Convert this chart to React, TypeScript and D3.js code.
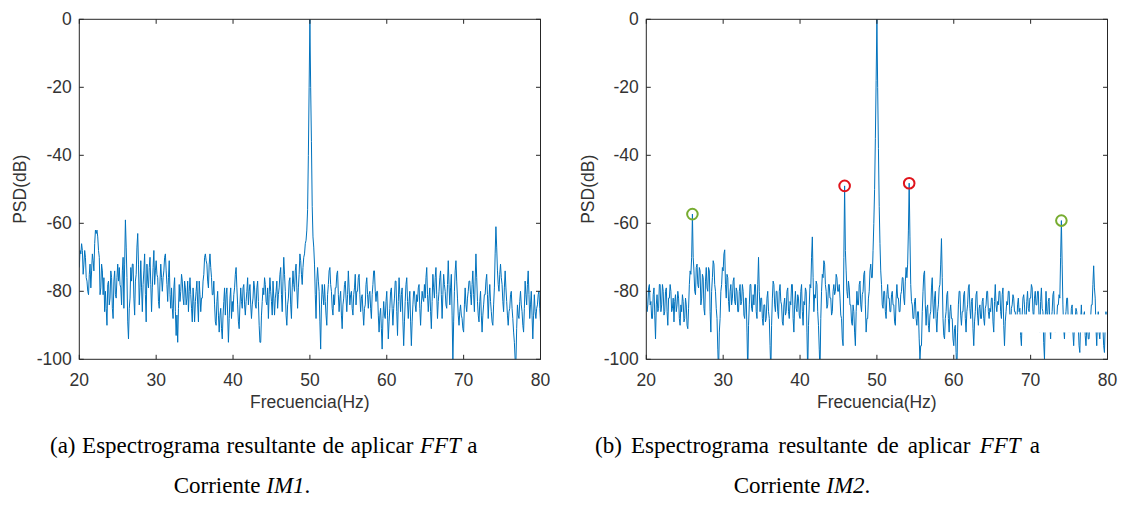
import React from 'react';
import * as d3 from 'd3';

// Frequency grid (Hz) of the spectra: 20 … 80 Hz, 0.1 Hz resolution
const freqStart = 20;
const freqStep = 0.1;

// PSD (dB) of current IM1 (one row per Hz)
const psdIM1 = [
  -73, -68, -69, -66, -68, -75, -72, -68, -70, -76,
  -77, -80, -81, -75, -72, -79, -74, -69, -71, -74,
  -66, -62, -63, -62, -64, -68, -70, -81, -79, -72,
  -74, -81, -76, -86, -80, -85, -90, -78, -77, -84,
  -82, -74, -76, -85, -88, -77, -74, -81, -82, -76,
  -72, -77, -73, -78, -79, -84, -74, -70, -85, -72,
  -59, -67, -76, -89, -94, -85, -82, -73, -77, -72,
  -72, -82, -87, -77, -75, -67, -63, -72, -84, -79,
  -71, -79, -86, -78, -74, -69, -81, -89, -72, -77,
  -79, -73, -70, -78, -86, -79, -73, -68, -78, -74,
  -71, -75, -76, -83, -85, -77, -72, -76, -80, -76,
  -74, -70, -69, -74, -78, -83, -76, -71, -81, -85,
  -79, -85, -88, -79, -76, -86, -93, -87, -95, -85,
  -78, -83, -80, -75, -77, -82, -84, -77, -79, -84,
  -82, -77, -86, -80, -76, -81, -85, -89, -79, -83,
  -89, -83, -80, -77, -84, -89, -77, -81, -86, -82,
  -82, -77, -75, -70, -69, -71, -72, -77, -79, -72,
  -69, -73, -76, -81, -81, -77, -84, -89, -90, -83,
  -80, -87, -92, -87, -85, -91, -94, -87, -83, -79,
  -87, -81, -79, -87, -95, -88, -82, -79, -88, -83,
  -86, -81, -79, -75, -73, -79, -84, -89, -91, -84,
  -79, -83, -85, -79, -78, -84, -87, -83, -80, -76,
  -84, -80, -78, -84, -88, -84, -82, -77, -79, -84,
  -85, -79, -77, -83, -90, -95, -95, -87, -83, -79,
  -81, -76, -78, -83, -84, -79, -88, -81, -76, -80,
  -83, -87, -77, -82, -87, -82, -80, -77, -85, -81,
  -79, -75, -73, -81, -86, -77, -70, -75, -80, -87,
  -90, -84, -82, -77, -76, -84, -88, -79, -74, -78,
  -80, -74, -72, -79, -85, -79, -75, -69, -71, -75,
  -78, -73, -70, -69, -66, -65, -62, -56, -40, -20,
  0, -20, -36, -55, -64, -67, -72, -81, -88, -77,
  -73, -77, -80, -89, -97, -84, -78, -81, -84, -78,
  -83, -87, -90, -81, -78, -74, -73, -78, -80, -85,
  -87, -81, -84, -79, -79, -75, -74, -81, -86, -82,
  -80, -87, -91, -84, -82, -78, -77, -82, -86, -81,
  -74, -79, -84, -81, -80, -85, -87, -81, -79, -75,
  -84, -80, -80, -76, -75, -81, -86, -82, -81, -86,
  -90, -85, -84, -78, -76, -81, -85, -81, -80, -85,
  -88, -81, -78, -74, -74, -80, -83, -80, -80, -87,
  -92, -87, -85, -91, -97, -88, -83, -87, -88, -83,
  -80, -87, -94, -89, -85, -80, -79, -85, -90, -85,
  -82, -77, -77, -86, -93, -83, -76, -81, -86, -81,
  -79, -89, -96, -89, -83, -78, -76, -83, -88, -83,
  -80, -89, -96, -89, -84, -80, -80, -84, -86, -81,
  -83, -79, -78, -85, -90, -84, -80, -82, -83, -78,
  -82, -76, -73, -81, -86, -82, -79, -86, -91, -83,
  -75, -79, -82, -76, -73, -81, -88, -83, -80, -76,
  -74, -81, -88, -81, -75, -78, -80, -84, -85, -78,
  -71, -78, -84, -79, -75, -87, -101, -89, -80, -74,
  -71, -77, -82, -87, -90, -86, -84, -87, -88, -91,
  -92, -84, -79, -84, -86, -82, -80, -77, -77, -81,
  -84, -78, -74, -81, -86, -77, -69, -76, -83, -87,
  -89, -83, -80, -87, -92, -87, -84, -81, -81, -77,
  -75, -81, -88, -82, -78, -83, -86, -89, -90, -84,
  -79, -69, -61, -67, -74, -78, -80, -75, -72, -76,
  -78, -83, -86, -79, -74, -79, -83, -87, -90, -86,
  -85, -81, -80, -85, -88, -92, -95, -100, -101, -91,
  -84, -87, -88, -83, -80, -84, -86, -90, -92, -85,
  -77, -81, -84, -78, -74, -81, -88, -84, -80, -87,
  -94, -87, -81, -86, -88, -85, -84, -81, -80, -85,
  -89,
];

// PSD (dB) of current IM2 (one row per Hz)
const psdIM2 = [
  -80, -86, -84, -79, -78, -84, -83, -88, -88, -81,
  -79, -87, -94, -84, -81, -86, -85, -78, -78, -86,
  -84, -78, -80, -87, -86, -80, -79, -86, -90, -82,
  -82, -78, -80, -86, -85, -82, -89, -83, -81, -86,
  -84, -80, -82, -88, -90, -84, -86, -81, -83, -89,
  -88, -82, -84, -90, -91, -85, -78, -74, -75, -70,
  -57.3, -70, -74, -80, -81, -73, -72, -78, -79, -73,
  -74, -84, -82, -75, -76, -85, -87, -77, -73, -79,
  -80, -73, -74, -86, -92, -80, -76, -71, -72, -78,
  -80, -85, -88, -97, -104, -92, -88, -80, -78, -73,
  -74, -69, -67.8, -78, -82, -75, -76, -83, -86, -80,
  -78, -84, -82, -77, -76, -83, -84, -79, -80, -86,
  -86, -80, -78, -84, -83, -78, -80, -87, -88, -82,
  -82, -92, -104, -90, -84, -78, -78, -85, -86, -81,
  -84, -78, -78, -86, -88, -78, -70, -80, -86, -82,
  -82, -88, -90, -84, -84, -89, -88, -82, -80, -86,
  -88, -96, -104, -90, -82, -77, -78, -84, -86, -80,
  -80, -86, -88, -80, -78, -83, -84, -89, -90, -84,
  -82, -87, -86, -80, -79, -86, -88, -83, -84, -78,
  -78, -88, -92, -84, -80, -85, -86, -81, -82, -87,
  -88, -80, -78, -86, -90, -83, -84, -79, -80, -92,
  -104, -90, -84, -78, -79, -70, -64, -76, -86, -81,
  -82, -77, -78, -86, -90, -97, -104, -88, -80, -75,
  -76, -71, -72, -78, -80, -85, -84, -78, -78, -82,
  -82, -87, -86, -80, -78, -81, -80, -75, -76, -80,
  -80, -78, -82, -87, -88, -94, -96, -70, -49, -68,
  -74, -80, -82, -77, -79, -84, -84, -89, -90, -84,
  -86, -92, -96, -86, -80, -84, -84, -78, -77, -84,
  -86, -81, -80, -75, -74, -84, -92, -88, -88, -82,
  -80, -74, -72, -76, -76, -68, -60, -50, -35, -18,
  0, -20, -38, -55, -66, -74, -78, -84, -85, -80,
  -80, -86, -88, -81, -78, -82, -82, -86, -86, -81,
  -80, -84, -84, -89, -90, -82, -78, -82, -82, -86,
  -86, -81, -80, -76, -76, -82, -84, -77, -73, -76,
  -72, -62, -48.2, -64, -78, -83, -84, -88, -88, -83,
  -82, -88, -90, -86, -86, -94, -100, -96, -96, -86,
  -80, -75, -74, -84, -90, -85, -84, -90, -92, -87,
  -86, -79, -76, -84, -88, -82, -80, -88, -92, -86,
  -84, -79, -78, -72, -64.5, -76, -88, -93, -94, -88,
  -86, -81, -80, -88, -92, -86, -84, -88, -88, -94,
  -96, -91, -90, -98, -104, -92, -84, -80, -80, -87,
  -90, -86, -86, -81, -80, -88, -92, -86, -84, -79,
  -78, -85, -88, -83, -82, -91, -96, -89, -86, -81,
  -80, -87, -90, -85, -84, -88, -88, -83, -82, -88,
  -90, -85, -84, -80, -80, -86, -88, -85, -86, -82,
  -82, -89, -92, -83, -78, -84, -86, -83, -84, -80,
  -80, -86, -88, -81, -79, -90, -96, -89, -86, -83,
  -84, -80, -80, -87, -90, -85, -84, -81, -82, -86,
  -86, -90, -90, -84, -82, -86, -85, -93, -96, -87,
  -82, -81, -84, -89, -90, -83, -80, -85, -86, -82,
  -82, -78, -79, -86, -88, -82, -80, -84, -84, -80,
  -80, -88, -92, -83, -79, -85, -86, -95, -100, -88,
  -80, -86, -88, -83, -82, -90, -94, -88, -86, -81,
  -80, -88, -92, -88, -88, -84, -84, -81, -82, -70,
  -59.2, -72, -84, -91, -94, -88, -86, -82, -82, -89,
  -92, -89, -90, -85, -84, -92, -96, -90, -88, -85,
  -86, -90, -90, -96, -98, -89, -84, -90, -92, -87,
  -86, -93, -96, -91, -90, -94, -94, -89, -88, -84,
  -84, -78, -72.5, -79, -82, -91, -96, -89, -86, -92,
  -94, -89, -88, -91, -90, -96, -98, -90, -86, -89,
  -88,
];

// Highlighted harmonics in IM2
const redHz = [45.8, 54.2];
const redDb = [-49, -48.2];
const greenHz = [26.0, 74.0];
const greenDb = [-57.3, -59.2];

const xTicks = [20, 30, 40, 50, 60, 70, 80];
const yTicks = [0, -20, -40, -60, -80, -100];
const xLabel = 'Frecuencia(Hz)';
const yLabel = 'PSD(dB)';

const captionA1 = ['(a) Espectrograma resultante de aplicar ', 'FFT', ' a'];
const captionA2 = ['Corriente ', 'IM1', '.'];
const captionB1 = ['(b) Espectrograma resultante de aplicar ', 'FFT', ' a'];
const captionB2 = ['Corriente ', 'IM2', '.'];

const AXIS = '#262626';
const TEXT = '#333333';
const LINE = '#0072BD';
const TICKFONT = 'Liberation Sans, Arial, sans-serif';
const SERIF = 'Liberation Serif, Times New Roman, serif';

type PanelProps = {
  id: string;
  left: number;
  values: number[];
  red?: boolean;
  yLabelX: number;
};

const TOP = 19.3;
const BOTTOM = 359.3;
const WIDTH = 461.2;

function Panel({ id, left, values, red, yLabelX }: PanelProps) {
  const x = d3.scaleLinear().domain([20, 80]).range([left, left + WIDTH]);
  const y = d3.scaleLinear().domain([-100, 0]).range([BOTTOM, TOP]);
  const pts: [number, number][] = values.map((v, i) => [freqStart + i * freqStep, v]);
  const line = d3
    .line<[number, number]>()
    .x((d) => x(d[0]))
    .y((d) => y(d[1]));
  const tl = 4.5;
  return (
    <g>
      <defs>
        <clipPath id={`clip-${id}`}>
          <rect x={left} y={TOP} width={WIDTH} height={BOTTOM - TOP} />
        </clipPath>
      </defs>
      <g clipPath={`url(#clip-${id})`}>
        <path d={line(pts) || ''} fill="none" stroke={LINE} strokeWidth={1} strokeLinejoin="round" />
      </g>
      {red && (
        <g>
          {redHz.map((h, i) => (
            <circle key={'r' + i} cx={x(h)} cy={y(redDb[i])} r={5.3} fill="none" stroke="#E0141C" strokeWidth={2} />
          ))}
          {greenHz.map((h, i) => (
            <circle key={'g' + i} cx={x(h)} cy={y(greenDb[i])} r={5.3} fill="none" stroke="#77AC30" strokeWidth={2} />
          ))}
          {/* white patch that covers part of the trace in the original figure */}
          <rect x={x(67.0)} y={y(-86.8)} width={x(80) - x(67.0)} height={y(-92.1) - y(-86.8)} fill="#ffffff" />
        </g>
      )}
      {/* box */}
      <rect x={left} y={TOP} width={WIDTH} height={BOTTOM - TOP} fill="none" stroke={AXIS} strokeWidth={1} />
      {/* x ticks */}
      {xTicks.map((t) => (
        <g key={'x' + t}>
          <line x1={x(t)} x2={x(t)} y1={BOTTOM} y2={BOTTOM - tl} stroke={AXIS} />
          <line x1={x(t)} x2={x(t)} y1={TOP} y2={TOP + tl} stroke={AXIS} />
          <text x={x(t)} y={BOTTOM + 27} textAnchor="middle" fontFamily={TICKFONT} fontSize={17.5} fill={TEXT}>
            {t}
          </text>
        </g>
      ))}
      {yTicks.map((t) => (
        <g key={'y' + t}>
          <line x1={left} x2={left + tl} y1={y(t)} y2={y(t)} stroke={AXIS} />
          <line x1={left + WIDTH} x2={left + WIDTH - tl} y1={y(t)} y2={y(t)} stroke={AXIS} />
          <text
            x={left - 7.5}
            y={y(t)}
            dy="0.35em"
            textAnchor="end"
            fontFamily={TICKFONT}
            fontSize={17.5}
            fill={TEXT}
          >
            {t}
          </text>
        </g>
      ))}
      <text
        x={left + WIDTH / 2}
        y={BOTTOM + 49}
        textAnchor="middle"
        fontFamily={TICKFONT}
        fontSize={17.5}
        fill={TEXT}
      >
        {xLabel}
      </text>
      <text
        transform={`translate(${yLabelX},${(TOP + BOTTOM) / 2}) rotate(-90)`}
        textAnchor="middle"
        dy="0.35em"
        fontFamily={TICKFONT}
        fontSize={17.5}
        fill={TEXT}
      >
        {yLabel}
      </text>
    </g>
  );
}

function Caption({ parts, x, y, anchor, wordSpacing }: { parts: string[]; x: number; y: number; anchor: string; wordSpacing?: number }) {
  return (
    <text
      x={x}
      y={y}
      textAnchor={anchor as any}
      fontFamily={SERIF}
      fontSize={23}
      fill="#000"
      style={{ wordSpacing: wordSpacing ? `${wordSpacing}px` : undefined, whiteSpace: 'pre' }}
    >
      <tspan>{parts[0]}</tspan>
      <tspan fontStyle="italic">{parts[1]}</tspan>
      <tspan>{parts[2]}</tspan>
    </text>
  );
}

export default function App() {
  return (
    <svg
      width={1122}
      height={509}
      style={{ position: 'absolute', left: 0, top: 0, background: '#fff' }}
    >
      <rect x={0} y={0} width={1122} height={509} fill="#fff" />
      <Panel id="a" left={79.3} values={psdIM1} yLabelX={20} />
      <Panel id="b" left={646.3} values={psdIM2} red yLabelX={588} />
      <Caption parts={captionA1} x={50} y={453} anchor="start" wordSpacing={0.8} />
      <Caption parts={captionA2} x={242} y={493} anchor="middle" />
      <Caption parts={captionB1} x={595} y={453} anchor="start" wordSpacing={3.5} />
      <Caption parts={captionB2} x={802} y={493} anchor="middle" />
    </svg>
  );
}
